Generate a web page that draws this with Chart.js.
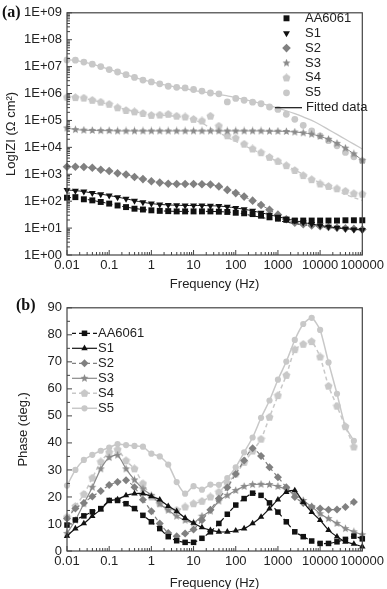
<!DOCTYPE html>
<html>
<head>
<meta charset="utf-8">
<script src="https://cdn.jsdelivr.net/npm/chart.js@4.4.1/dist/chart.umd.min.js"></script>
<style>
  html, body { margin: 0; padding: 0; background: #fff; overflow: hidden; }
  body { width: 387px; height: 589px; position: relative; }
  .panel { position: absolute; left: 0; width: 387px; }
  #wrapA { top: 0; height: 295px; }
  #wrapB { top: 295px; height: 299px; }
  .tag { position: absolute; font: bold 16px "Liberation Serif", "Times New Roman", serif; color: #111; }
</style>
</head>
<body>
<div class="panel" id="wrapA"><canvas id="bode" width="387" height="295"></canvas></div>
<div class="panel" id="wrapB"><canvas id="phase" width="387" height="299"></canvas></div>
<div class="tag" style="left:2px; top:3px">(a)</div>
<div class="tag" style="left:16px; top:296px">(b)</div>
<script>
// frequencies of the measured points (Hz), 5 per decade
const freq = [0.01, 0.0158, 0.0251, 0.0398, 0.0631, 0.1, 0.158, 0.251, 0.398, 0.631,
  1, 1.58, 2.51, 3.98, 6.31, 10, 15.8, 25.1, 39.8, 63.1,
  100, 158, 251, 398, 631, 1000, 1580, 2510, 3980, 6310,
  10000, 15800, 25100, 39800, 63100, 100000];
const freqTicks = [0.01, 0.1, 1, 10, 100, 1000, 10000, 100000];
const freqLabels = ['0.01', '0.1', '1', '10', '100', '1000', '10000', '100000'];
const logZTicks = [0, 1, 2, 3, 4, 5, 6, 7, 8, 9];
const logZLabels = ['1E+00', '1E+01', '1E+02', '1E+03', '1E+04', '1E+05', '1E+06', '1E+07', '1E+08', '1E+09'];
const phaseTicks = [0, 10, 20, 30, 40, 50, 60, 70, 80, 90];
const seriesNames = ['AA6061', 'S1', 'S2', 'S3', 'S4', 'S5'];

// log10 |Z| (ohm cm2), measured points of panel (a)
const logZ_AA6061 = [2.13, 2.15, 2.07, 2.03, 1.97, 1.91, 1.84, 1.78, 1.72, 1.69, 1.66, 1.64, 1.63, 1.62, 1.62, 1.62, 1.62, 1.62, 1.61, 1.6, 1.57, 1.55, 1.52, 1.46, 1.4, 1.35, 1.31, 1.28, 1.28, 1.28, 1.28, 1.28, 1.28, 1.29, 1.29, 1.29];
const logZ_S1 = [2.42, 2.39, 2.36, 2.3, 2.26, 2.21, 2.15, 2.09, 2.02, 1.96, 1.91, 1.88, 1.86, 1.85, 1.84, 1.84, 1.84, 1.83, 1.82, 1.79, 1.75, 1.7, 1.64, 1.57, 1.5, 1.42, 1.35, 1.28, 1.21, 1.15, 1.1, 1.05, 1.01, 0.98, 0.95, 0.93];
const logZ_S2 = [3.28, 3.28, 3.27, 3.24, 3.17, 3.12, 3.04, 2.99, 2.9, 2.82, 2.74, 2.69, 2.65, 2.64, 2.64, 2.64, 2.63, 2.62, 2.55, 2.42, 2.3, 2.17, 2.02, 1.86, 1.68, 1.5, 1.33, 1.2, 1.14, 1.1, 1.07, 1.04, 1.01, 0.99, 0.97, 0.95];
const logZ_S3 = [4.72, 4.66, 4.64, 4.63, 4.62, 4.62, 4.61, 4.61, 4.61, 4.61, 4.61, 4.61, 4.61, 4.61, 4.61, 4.61, 4.61, 4.61, 4.61, 4.61, 4.61, 4.61, 4.61, 4.61, 4.6, 4.6, 4.59, 4.57, 4.54, 4.49, 4.41, 4.3, 4.15, 3.97, 3.76, 3.52];
const logZ_S4 = [5.86, 5.85, 5.83, 5.75, 5.68, 5.6, 5.47, 5.37, 5.32, 5.26, 5.19, 5.2, 5.23, 5.16, 5.13, 5.04, 4.98, 5.16, 4.79, 4.43, 4.34, 4.12, 3.94, 3.8, 3.63, 3.48, 3.32, 3.14, 2.95, 2.8, 2.64, 2.55, 2.46, 2.37, 2.28, 2.26];
const logZ_S5 = [7.25, 7.24, 7.17, 7.09, 7.0, 6.89, 6.8, 6.7, 6.6, 6.5, 6.43, 6.36, 6.27, 6.23, 6.21, 6.15, 6.09, 6.02, 5.99, 5.69, 5.82, 5.75, 5.68, 5.62, 5.5, 5.41, 5.23, 5.04, 4.82, 4.61, 4.43, 4.25, 4.06, 3.81, 3.65, 3.5];

// fitted curves that leave the points at high frequency
const fit_AA6061 = [2.13, 2.13, 2.08, 2.03, 1.97, 1.91, 1.84, 1.78, 1.73, 1.69, 1.66, 1.64, 1.63, 1.62, 1.62, 1.62, 1.62, 1.62, 1.61, 1.6, 1.57, 1.52, 1.46, 1.4, 1.34, 1.28, 1.22, 1.17, 1.12, 1.08, 1.05, 1.02, 1.0, 0.98, 0.96, 0.95];
const fit_S4 = [5.86, 5.85, 5.82, 5.76, 5.68, 5.59, 5.49, 5.4, 5.33, 5.27, 5.23, 5.2, 5.18, 5.15, 5.1, 5.02, 4.9, 4.72, 4.55, 4.38, 4.22, 4.07, 3.92, 3.77, 3.62, 3.47, 3.32, 3.16, 3.0, 2.84, 2.68, 2.53, 2.39, 2.25, 2.13, 2.03];
const fit_S5 = [7.26, 7.23, 7.17, 7.09, 7.0, 6.9, 6.8, 6.7, 6.6, 6.51, 6.43, 6.36, 6.29, 6.23, 6.18, 6.12, 6.07, 6.02, 5.97, 5.91, 5.85, 5.78, 5.71, 5.63, 5.55, 5.46, 5.36, 5.25, 5.13, 5.0, 4.84, 4.66, 4.48, 4.3, 4.12, 3.94];

// phase angle (deg.), panel (b)
const phase_AA6061 = [9.6, 11.5, 13, 14.5, 15.7, 18.7, 18.7, 17.5, 15.7, 13.2, 10.8, 8.3, 5.3, 3.8, 3.2, 3.2, 4.7, 7.1, 10.2, 13.6, 17, 19.4, 21.4, 20.6, 17.8, 14.4, 10.8, 7.1, 5.3, 3.7, 2.8, 2.8, 3.4, 4.3, 5.5, 4.5];
const phase_S1 = [5.5, 8.3, 10.2, 12.9, 15.3, 18.5, 19.1, 20.6, 21.2, 21.2, 20.2, 19.0, 16.6, 14.7, 12.2, 10.4, 8.7, 7.7, 7.1, 7.1, 7.5, 8.3, 10.2, 12.6, 15.7, 19.0, 21.8, 22.4, 18.1, 14.4, 11.4, 7.7, 5.3, 3.4, 2.6, 1.6];
const phase_S2 = [12, 15.7, 17.8, 20.2, 22.2, 24.4, 25.5, 26.2, 23.6, 19.0, 14.7, 10.2, 6.7, 5.5, 6.5, 8.0, 11.4, 15.3, 19.4, 23.5, 28.5, 33.5, 38, 35.2, 31, 27.3, 23.6, 20.0, 17.8, 16.3, 15.7, 15.3, 15.4, 16.3, 18.1, null];
const phase_S3 = [6.5, 11.4, 17.5, 23.6, 30.4, 34.6, 35.5, 30.4, 26.3, 23.0, 20.6, 17.5, 15.1, 12.9, 11.4, 10.4, 12.9, 14.8, 18.5, 20.6, 22.4, 23.9, 24.6, 24.7, 24.6, 23.9, 22.7, 20.9, 18.7, 16.5, 13.8, 12.0, 10.2, 8.3, 7.1, 6.0];
const phase_S4 = [12.5, 16.5, 21, 27, 33, 36.5, 37.5, 33.4, 30.4, 24.9, 20.0, 17.5, 15.7, 15.1, 16.3, 17.5, 18.4, 20.0, 21.8, 25.1, 28.5, 32.8, 37, 41.4, 49.5, 57.5, 65, 74.5, 76.5, 77.5, 71.8, 61.0, 53.6, 46, 38.5, null];
const phase_S5 = [24.2, 30, 33.7, 35.6, 37.1, 38.3, 39.6, 39.2, 38.9, 38.6, 36, 35, 32, 25.5, 21.2, 24.0, 22.7, 24.6, 24.5, 27, 31, 36.5, 42, 49.3, 55.7, 63.4, 70.1, 78.1, 84.0, 86.3, 81.8, 69.8, 58.2, 46, 40.8, null];

const logZ = { AA6061: logZ_AA6061, S1: logZ_S1, S2: logZ_S2, S3: logZ_S3, S4: logZ_S4, S5: logZ_S5 };
const fits = { AA6061: fit_AA6061, S4: fit_S4, S5: fit_S5 };
const phase = { AA6061: phase_AA6061, S1: phase_S1, S2: phase_S2, S3: phase_S3, S4: phase_S4, S5: phase_S5 };

Chart.defaults.font.family = '"Liberation Sans", Arial, sans-serif';
Chart.defaults.font.size = 13;
Chart.defaults.color = '#222';

function shapeImage(kind, size, fill) {
  const c = document.createElement('canvas');
  c.width = c.height = size;
  const g = c.getContext('2d');
  const n = kind === 'star' ? 10 : 5;
  const R = size / 2 - 0.3;
  g.fillStyle = fill;
  g.beginPath();
  for (let k = 0; k < n; k++) {
    const rr = (kind === 'star' && k % 2) ? R * 0.45 : R;
    const a = -Math.PI / 2 + k * 2 * Math.PI / n;
    g.lineTo(size / 2 + rr * Math.cos(a), size / 2 + rr * Math.sin(a));
  }
  g.closePath();
  g.fill();
  return c;
}

const looks = {
  AA6061: { color: '#111', dash: [4, 3], point: 'rect', r: 4.2 },
  S1: { color: '#111', dash: [], point: 'triangle', r: 4 },
  S2: { color: '#808080', dash: [4, 3], point: 'rectRot', r: 4.3 },
  S3: { color: '#8a8a8a', dash: [], point: shapeImage('star', 9, '#8a8a8a'), r: 4 },
  S4: { color: '#c8c8c8', dash: [4, 3], point: shapeImage('pent', 9, '#c8c8c8'), r: 4 },
  S5: { color: '#c8c8c8', dash: [], point: 'circle', r: 3.4 }
};

function pts(arr) {
  return freq.map((f, i) => ({ x: f, y: arr[i] }));
}

// inward ticks, frame box and legend
const frame = {
  id: 'frame',
  afterDatasetsDraw(chart, args, opts) {
    const { ctx, chartArea: a, scales } = chart;
    ctx.save();
    ctx.strokeStyle = '#444';
    ctx.lineWidth = 1.2;
    ctx.setLineDash([]);
    ctx.strokeRect(a.left, a.top, a.right - a.left, a.bottom - a.top);

    ctx.lineWidth = 1;
    ctx.beginPath();
    for (let d = -2; d <= 5; d++) {
      const px = scales.x.getPixelForValue(Math.pow(10, d));
      ctx.moveTo(px, a.bottom); ctx.lineTo(px, a.bottom - 5);
      if (d === 5) break;
      for (let k = 2; k <= 9; k++) {
        const mx = scales.x.getPixelForValue(k * Math.pow(10, d));
        ctx.moveTo(mx, a.bottom); ctx.lineTo(mx, a.bottom - 3);
      }
    }
    const y = scales.y;
    for (let v = y.min; v <= y.max; v += opts.yStep) {
      const py = y.getPixelForValue(v);
      ctx.moveTo(a.left, py); ctx.lineTo(a.left + 5, py);
      if (v === y.max) break;
      if (opts.logMinor) {
        for (let k = 2; k <= 9; k++) {
          const my = y.getPixelForValue(v + Math.log10(k));
          ctx.moveTo(a.left, my); ctx.lineTo(a.left + 3, my);
        }
      } else {
        const my = y.getPixelForValue(v + opts.yStep / 2);
        ctx.moveTo(a.left, my); ctx.lineTo(a.left + 3, my);
      }
    }
    ctx.stroke();

    const lg = opts.legend;
    ctx.font = '13px "Liberation Sans", Arial, sans-serif';
    ctx.textBaseline = 'middle';
    ctx.textAlign = 'left';
    seriesNames.forEach((name, i) => {
      const ds = chart.data.datasets.find(d => d.label === name);
      const yy = lg.top + i * lg.step;
      if (lg.withLine) {
        ctx.strokeStyle = ds.borderColor;
        ctx.lineWidth = ds.borderWidth;
        ctx.setLineDash(ds.borderDash || []);
        ctx.beginPath();
        ctx.moveTo(lg.lineFrom, yy); ctx.lineTo(lg.lineTo, yy);
        ctx.stroke();
        ctx.setLineDash([]);
      }
      ctx.fillStyle = ds.pointBackgroundColor;
      ctx.strokeStyle = ds.pointBorderColor;
      Chart.helpers.drawPoint(ctx, {
        pointStyle: ds.pointStyle, rotation: ds.pointRotation || 0,
        radius: ds.pointRadius, borderWidth: 0
      }, lg.markX, yy);
      ctx.fillStyle = '#222';
      ctx.fillText(name, lg.textX, yy);
    });
    if (lg.fitted) {
      const yy = lg.top + seriesNames.length * lg.step;
      ctx.strokeStyle = '#111';
      ctx.lineWidth = 1.2;
      ctx.beginPath();
      ctx.moveTo(lg.fitFrom, yy); ctx.lineTo(lg.fitTo, yy);
      ctx.stroke();
      ctx.fillStyle = '#222';
      ctx.fillText(lg.fitted, lg.fitText, yy);
    }
    ctx.restore();
  }
};

function xAxis(height) {
  return {
    type: 'logarithmic', min: 0.01, max: 100000,
    afterBuildTicks: s => { s.ticks = freqTicks.map(v => ({ value: v })); },
    afterFit: s => { s.height = height; },
    ticks: { autoSkip: false, maxRotation: 0, padding: 3, color: '#222',
      callback: v => freqLabels[freqTicks.indexOf(v)] },
    grid: { display: false, drawTicks: false },
    border: { display: false },
    title: { display: true, text: 'Frequency (Hz)', color: '#222', font: { size: 13 }, padding: { top: 0, bottom: 3 } }
  };
}

// panel (a): Bode modulus
const bodeSets = [];
seriesNames.forEach(name => {
  const lk = looks[name];
  const own = !fits[name];
  bodeSets.push({
    label: name, data: pts(logZ[name]), order: 1,
    showLine: own, borderColor: lk.color, borderWidth: 1, borderDash: lk.dash, tension: 0.3,
    pointStyle: lk.point, pointRadius: lk.r, pointRotation: name === 'S1' ? 180 : 0,
    pointBackgroundColor: lk.color, pointBorderColor: lk.color, pointBorderWidth: 0
  });
});
Object.keys(fits).forEach(name => {
  const lk = looks[name];
  bodeSets.push({
    label: name + ' fit', data: pts(fits[name]), order: 2,
    showLine: true, borderColor: lk.color, borderWidth: name === 'AA6061' ? 1 : 1.3,
    borderDash: lk.dash, tension: 0.3, pointRadius: 0
  });
});

new Chart(document.getElementById('bode'), {
  type: 'scatter',
  data: { datasets: bodeSets },
  options: {
    responsive: false, animation: false, clip: false,
    layout: { padding: { top: 11, right: 22, left: 0, bottom: 0 } },
    plugins: {
      legend: { display: false }, tooltip: { enabled: false },
      frame: { yStep: 1, logMinor: true,
        legend: { top: 18.3, step: 14.9, markX: 286.5, textX: 305, withLine: false,
          fitted: 'Fitted data', fitFrom: 275, fitTo: 302, fitText: 306 } }
    },
    scales: {
      x: xAxis(40),
      y: {
        type: 'linear', min: 0, max: 9,
        afterBuildTicks: s => { s.ticks = logZTicks.map(v => ({ value: v })); },
        afterFit: s => { s.width = 67; },
        ticks: { padding: 5, color: '#222', callback: v => logZLabels[v] },
        grid: { display: false, drawTicks: false },
        border: { display: false },
        title: { display: true, text: 'LogIZI (Ω cm²)', color: '#222', font: { size: 13 }, padding: { top: 4, bottom: 0 } }
      }
    }
  },
  plugins: [frame]
});

// panel (b): phase angle
const phaseSets = seriesNames.map(name => {
  const lk = looks[name];
  return {
    label: name, data: pts(phase[name]),
    showLine: true, borderColor: lk.color, borderWidth: name === 'S5' || name === 'S4' ? 1.5 : 1.2,
    borderDash: lk.dash, tension: 0.2,
    pointStyle: lk.point, pointRadius: lk.r - 0.3,
    pointBackgroundColor: lk.color, pointBorderColor: lk.color, pointBorderWidth: 0
  };
});

new Chart(document.getElementById('phase'), {
  type: 'scatter',
  data: { datasets: phaseSets },
  options: {
    responsive: false, animation: false, clip: false,
    layout: { padding: { top: 11, right: 22, left: 0, bottom: 0 } },
    plugins: {
      legend: { display: false }, tooltip: { enabled: false },
      frame: { yStep: 10, logMinor: false,
        legend: { top: 38.3, step: 15, markX: 84.5, textX: 98, withLine: true, lineFrom: 72, lineTo: 97 } }
    },
    scales: {
      x: xAxis(43),
      y: {
        type: 'linear', min: 0, max: 90,
        afterBuildTicks: s => { s.ticks = phaseTicks.map(v => ({ value: v })); },
        afterFit: s => { s.width = 67; },
        ticks: { padding: 5, color: '#222' },
        grid: { display: false, drawTicks: false },
        border: { display: false },
        title: { display: true, text: 'Phase (deg.)', color: '#222', font: { size: 13 }, padding: { top: 16, bottom: 0 } }
      }
    }
  },
  plugins: [frame]
});
</script>
</body>
</html>
